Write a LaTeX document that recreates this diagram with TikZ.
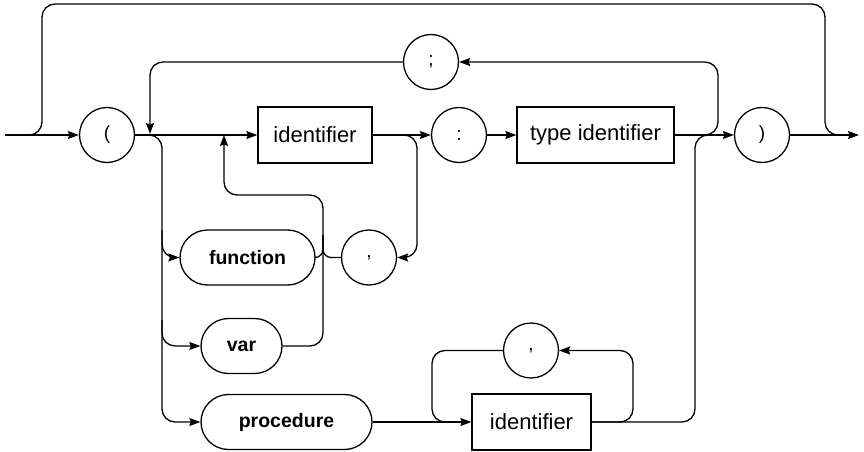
\documentclass[tikz,border=0pt]{standalone}
\usepackage{fontspec}
\setmainfont{Liberation Sans}
\usetikzlibrary{arrows.meta}
\begin{document}
\begin{tikzpicture}[x=1pt,y=-1pt, line width=1.3pt,
  arr/.style={-{Stealth[length=11pt,width=8pt,inset=1.5pt]}},
  term/.style={draw, circle, minimum size=55pt, inner sep=0pt, font=\fontsize{19}{22}\selectfont},
  nterm/.style={draw, rectangle, minimum height=56pt, inner sep=0pt, font=\fontsize{22}{26}\selectfont},
  kw/.style={draw, rectangle, rounded corners=27.5pt, minimum height=55pt, inner sep=0pt, font=\bfseries\fontsize{19.5}{23}\selectfont},
  rc/.style={rounded corners=13pt}]
\useasboundingbox (0,0) rectangle (864,452);
\node[term] (lp) at (107,135) {(};
\node[nterm, minimum width=114pt] (id1) at (315,135) {identifier};
\node[term] (colon) at (459,135) {:};
\node[nterm, minimum width=157pt] (tid) at (595.5,135) {type identifier};
\node[term] (rp) at (762,135) {)};
\node[term] (semi) at (431,62) {;};
\node[kw, minimum width=135pt] (fun) at (247.5,257.5) {function};
\node[term] (c1) at (369,257.5) {,};
\node[kw, minimum width=81pt] (var) at (241.5,346) {var};
\node[kw, minimum width=171pt] (proc) at (286.5,422) {procedure};
\node[term] (c2) at (531,350.5) {,};
\node[nterm, minimum width=119pt] (id2) at (531.5,422) {identifier};
\coordinate (in) at (5,135);
\coordinate (out) at (859,135);

\draw[arr] (in) -- (lp);
\draw[rc] (in) -- (42,135) -- (42,4) -- (825,4) -- (825,135) -- (845,135);
\draw[arr] (rp) -- (out);
\draw[arr] (lp) -- (id1);
\draw[arr,rc] (lp.east) -- (162,135) -- (162,422) -- (proc.west);
\draw[arr,rc] (162,230) -- (162,257.5) -- (fun.west);
\draw[arr,rc] (162,320) -- (162,346) -- (var.west);
\draw[arr,rc] (tid.east) -- (718,135) -- (718,62) -- (semi.east);
\draw[arr,rc] (semi.west) -- (150,62) -- (150,134);
\draw[arr] (id1) -- (colon);
\draw[arr] (colon) -- (tid);
\draw[arr] (tid) -- (rp);
\draw[arr,rc] (id1.east) -- (417,135) -- (417,257.5) -- (c1.east);
\draw[arr,rc] (var.east) -- (323,346) -- (323,195) -- (224,195) -- (224,135);
\draw[rounded corners=8pt] (fun.east) -- (323,257.5) -- (323,235);
\draw[rounded corners=8pt] (c1.west) -- (323,257.5) -- (323,235);
\draw[arr] (proc) -- (id2);
\draw[arr,rc] (id2.east) -- (633,422) -- (633,350.5) -- (c2.east);
\draw[rc] (c2.west) -- (432,350.5) -- (432,422) -- (450,422);
\draw[rc] (id2.east) -- (695,422) -- (695,135) -- (712,135);
\end{tikzpicture}
\end{document}
